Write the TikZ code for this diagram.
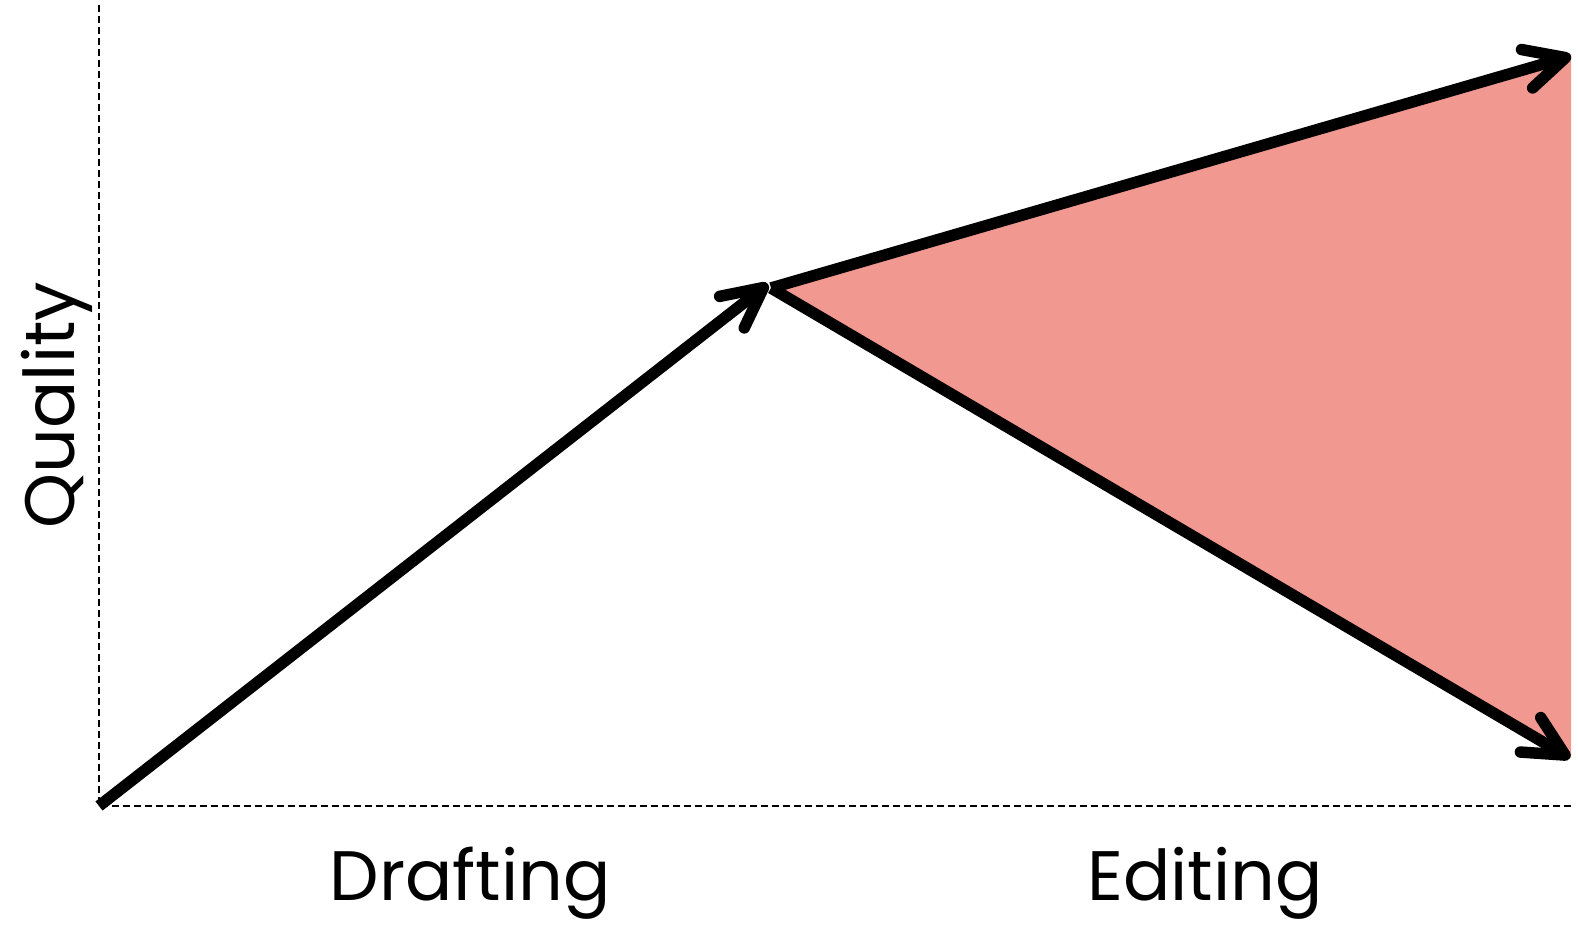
\documentclass[tikz,border=0pt]{standalone}
\usepackage{fontspec}
\setmainfont{Poppins}
\usetikzlibrary{arrows.meta}
\definecolor{spread}{HTML}{F19891}
\tikzset{
  axis/.style={line width=2pt, dash pattern=on 7pt off 4pt},
  trend/.style={line width=11.5pt, -{Straight Barb[length=40pt, width=40pt, round]}},
  label/.style={font=\fontsize{70}{70}\selectfont, inner sep=0pt}
}
\begin{document}
\begin{tikzpicture}[x=1pt, y=-1pt]
  \useasboundingbox (0,0) rectangle (1578,924);
  % key points
  \coordinate (origin) at (99,806);
  \coordinate (ytop) at (99,5);
  \coordinate (xend) at (1571,806);
  \coordinate (mid) at (768,284);
  \coordinate (split) at (771,288);
  \coordinate (high) at (1571,56);
  \coordinate (low) at (1570,758);
  % range of possible outcomes after editing
  \fill[spread] (split) -- (1571,54) -- (1571,758) -- cycle;
  % axes
  \draw[axis] (ytop) -- (origin) -- (xend);
  % trajectories
  \draw[trend] (origin) -- (mid);
  \draw[trend] (split) -- (high);
  \draw[trend] (split) -- (low);
  % labels
  \node[label, anchor=base] (drafting) at (470,900) {Drafting};
  \node[label, anchor=base] (editing) at (1205,900) {Editing};
  \node[label, anchor=base, rotate=90] (quality) at (74,405) {Quality};
\end{tikzpicture}
\end{document}
